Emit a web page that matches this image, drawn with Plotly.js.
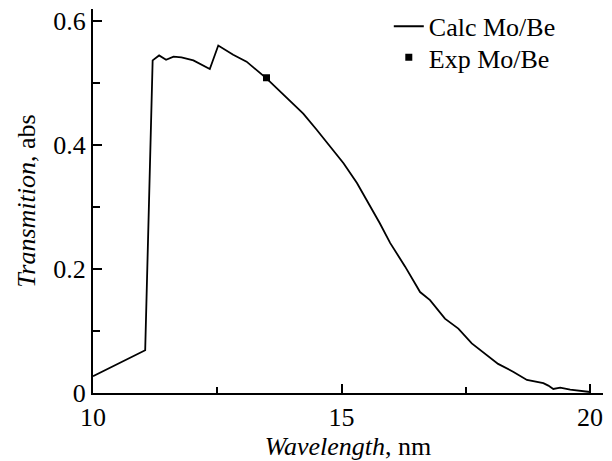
<!DOCTYPE html>
<html>
<head>
<meta charset="utf-8">
<script src="https://cdn.plot.ly/plotly-3.0.1.min.js"></script>
<style>html,body{margin:0;padding:0;background:#fff;}#chart{width:612px;height:461px;}</style>
</head>
<body>
<div id="chart"></div>
<script>
const calcX = [10, 11.05, 11.2, 11.33, 11.47, 11.62, 11.78, 12.02, 12.35, 12.52, 12.82, 13.09, 13.49, 13.86, 14.03, 14.23, 14.50, 14.77, 15.04, 15.31, 15.57, 15.77, 15.98, 16.28, 16.58, 16.78, 17.08, 17.35, 17.62, 17.92, 18.15, 18.46, 18.73, 19.06, 19.16, 19.26, 19.40, 19.60, 19.80, 20.0];
const calcY = [0.027, 0.069, 0.537, 0.545, 0.538, 0.543, 0.542, 0.537, 0.523, 0.561, 0.546, 0.535, 0.508, 0.479, 0.467, 0.451, 0.425, 0.398, 0.371, 0.339, 0.303, 0.274, 0.242, 0.204, 0.163, 0.150, 0.120, 0.104, 0.080, 0.061, 0.047, 0.034, 0.021, 0.016, 0.012, 0.0065, 0.0087, 0.0055, 0.003, 0.0016];
const expX = [13.49];
const expY = [0.509];
const seriesNames = ["Calc Mo/Be", "Exp Mo/Be"];

const FONT = "Times New Roman";

const traces = [
  {x: calcX, y: calcY, mode: "lines", name: seriesNames[0], legend: "legend",
   line: {color: "#000", width: 1.8}},
  {x: expX, y: expY, mode: "markers", name: seriesNames[1], legend: "legend2",
   marker: {symbol: "square", size: 7, color: "#000"}}
];

const layout = {
  width: 612, height: 461,
  margin: {l: 93, r: 9, t: 9, b: 68, autoexpand: false},
  paper_bgcolor: "#fff", plot_bgcolor: "#fff",
  font: {family: FONT, size: 26, color: "#000"},
  showlegend: true,
  legend: {x: 0.58, y: 1.016, xanchor: "left", yanchor: "top",
           bgcolor: "rgba(0,0,0,0)", font: {family: FONT, size: 26, color: "#000"}},
  legend2: {x: 0.58, y: 0.935, xanchor: "left", yanchor: "top",
           bgcolor: "rgba(0,0,0,0)", font: {family: FONT, size: 26, color: "#000"}},
  xaxis: {
    range: [10, 20.26], dtick: 5, tick0: 10,
    showgrid: false, zeroline: false,
    showline: true, linecolor: "#000", linewidth: 2,
    ticks: "inside", ticklen: 9, tickwidth: 2, tickcolor: "#000",
    minor: {dtick: 2.5, ticks: "inside", ticklen: 6, tickwidth: 2, tickcolor: "#000", showgrid: false},
    tickfont: {family: FONT, size: 26, color: "#000"},
    title: {text: "<i>Wavelength</i>, nm", font: {family: FONT, size: 26, color: "#000"}, standoff: 5}
  },
  yaxis: {
    range: [0, 0.62], dtick: 0.2, tick0: 0,
    showgrid: false, zeroline: false,
    showline: true, linecolor: "#000", linewidth: 2,
    ticks: "inside", ticklen: 9, tickwidth: 2, tickcolor: "#000",
    minor: {dtick: 0.1, ticks: "inside", ticklen: 7, tickwidth: 2, tickcolor: "#000", showgrid: false},
    tickfont: {family: FONT, size: 26, color: "#000"},
    title: {text: "<i>Transmition</i>, abs", font: {family: FONT, size: 26, color: "#000"}, standoff: 10}
  }
};

Plotly.newPlot("chart", traces, layout, {displayModeBar: false, staticPlot: true});
</script>
</body>
</html>
